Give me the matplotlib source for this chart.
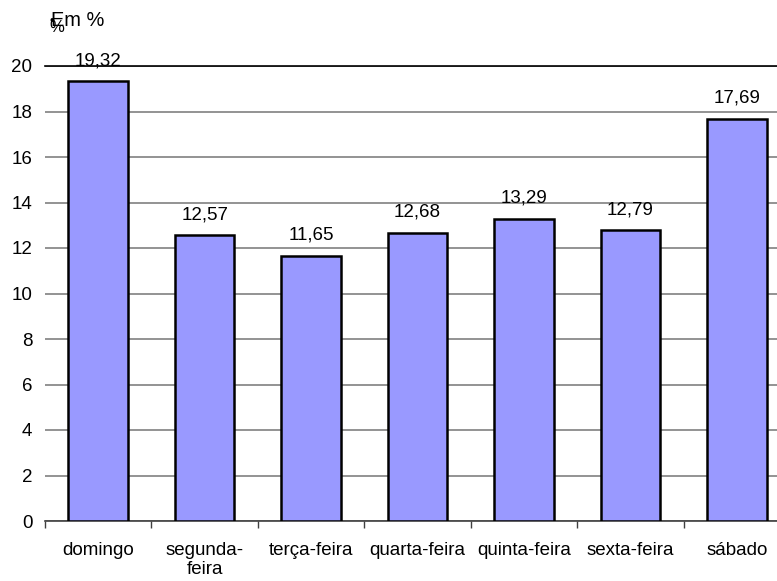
import matplotlib.pyplot as plt
import numpy as np

plt.rcParams['font.family'] = ['Liberation Sans', 'DejaVu Sans']

dias = ["domingo", "segunda-\nfeira", "terça-feira", "quarta-feira",
        "quinta-feira", "sexta-feira", "sábado"]
percentuais = [19.32, 12.57, 11.65, 12.68, 13.29, 12.79, 17.69]
rotulos = ["19,32", "12,57", "11,65", "12,68", "13,29", "12,79", "17,69"]
yticks = [0, 2, 4, 6, 8, 10, 12, 14, 16, 18, 20]

fig = plt.figure(figsize=(7.77, 5.81), dpi=100)
# axes run a bit past the right edge, as in the original export
ax = fig.add_axes([45 / 777, 1 - 521 / 581, 745 / 777, 455 / 581])

x = np.arange(len(dias))
ax.bar(x, percentuais, width=0.56, color="#9999FF", edgecolor="black",
       linewidth=1.8, zorder=3)

for xi, v, lab in zip(x, percentuais, rotulos):
    ax.annotate(lab, (xi, v), xytext=(0, 11.5), textcoords="offset points",
                ha="center", va="baseline", fontsize=13.5, zorder=4)

ax.set_xlim(-0.5, len(dias) - 0.5)
ax.set_ylim(0, 20)
ax.set_yticks(yticks)
ax.set_yticklabels([str(t) for t in yticks], fontsize=13.5)
ax.yaxis.grid(True, color="#808080", linewidth=1.2, zorder=0)
ax.tick_params(axis="y", length=0, pad=9)

# category separators on the x axis
ax.set_xticks(x)
ax.set_xticklabels(dias, fontsize=13.5, va="top", linespacing=1.15)
ax.set_xticks(np.arange(-0.5, len(dias), 1), minor=True)
ax.tick_params(axis="x", which="major", length=0, pad=15)
ax.tick_params(axis="x", which="minor", length=5, width=1, color="#404040")

for s in ["left", "right"]:
    ax.spines[s].set_visible(False)
ax.spines["top"].set_color("black")
ax.spines["top"].set_linewidth(1.2)
ax.spines["bottom"].set_color("#404040")
ax.spines["bottom"].set_linewidth(1.2)

fig.text(51 / 777, 1 - 20 / 581, "Em %", fontsize=14.4, va="center", ha="left")
fig.text(49 / 777, 1 - 28 / 581, "%", fontsize=12, va="center", ha="left")
fig.text(52 / 777, 1 - 22 / 581, "•", fontsize=9, va="center", ha="center")

fig.savefig("out.png", dpi=100)
